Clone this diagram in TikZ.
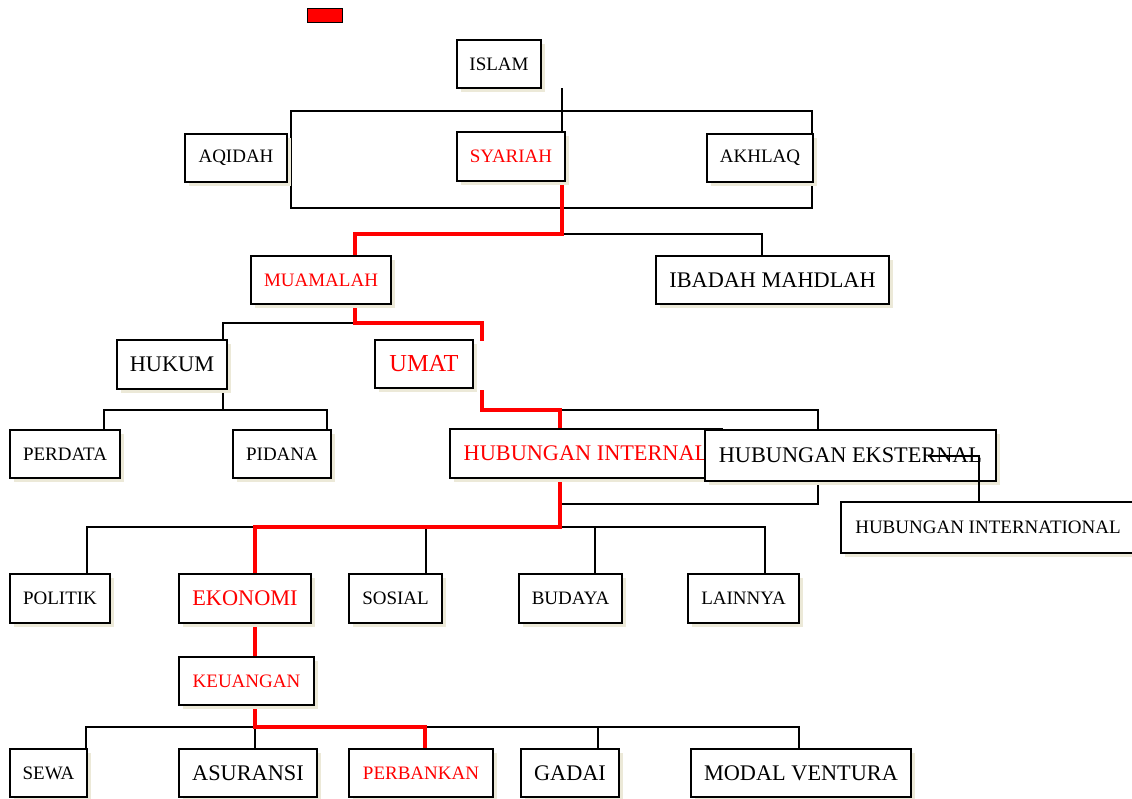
\documentclass[tikz,border=0pt]{standalone}
\usepackage{fontspec}
\setmainfont{Liberation Serif}
\usetikzlibrary{shadows, backgrounds}
\definecolor{shadowbeige}{HTML}{ECE9D8}

\begin{document}
\begin{tikzpicture}[
            x=1pt, y=-1pt,
            box/.style={draw, line width=1.2pt, fill=white, inner sep=0pt, minimum height=48pt,
                font=\fontsize{19}{22}\selectfont,
                drop shadow={shadow xshift=4pt, shadow yshift=-4pt, fill=shadowbeige, opacity=1}}, % plain box
            bigbox/.style={box, font=\fontsize{22.3}{26}\selectfont}, % box with larger text
            marked/.style={text=red}, % boxes on the red path
            link/.style={line width=1.1pt}, % thin connector
            redlink/.style={red, line width=4.5pt} % highlighted connector
            ]
        \useasboundingbox (0,0) rectangle (1132,798);

        % small red marker at the top
        \node[draw, fill=red, line width=1pt, minimum width=35pt, minimum height=14pt] (marker) at (324.5,15) {};

        % ISLAM and its three parts
        \node[box, minimum width=84pt] (islam) at (499,64) {ISLAM};
        \node[box, minimum width=102pt] (aqidah) at (236,158) {AQIDAH};
        \node[box, marked, minimum width=108pt, minimum height=49pt] (syariah) at (511,156.5) {SYARIAH};
        \node[box, minimum width=106pt] (akhlaq) at (760,158) {AKHLAQ};

        % syariah
        \node[box, marked, minimum width=140pt] (muamalah) at (321,280) {MUAMALAH};
        \node[bigbox, minimum width=233pt] (ibadah) at (772.5,280) {IBADAH MAHDLAH};

        % muamalah
        \node[bigbox, minimum width=110pt, minimum height=49pt] (hukum) at (172,364.5) {HUKUM};
        \node[bigbox, marked, minimum width=98pt, font=\fontsize{24.4}{28}\selectfont] (umat) at (424,364) {UMAT};
        \node[box, minimum width=110pt] (perdata) at (65,454) {PERDATA};
        \node[box, minimum width=98pt] (pidana) at (282,454) {PIDANA};

        % umat
        \node[bigbox, marked, minimum width=272pt, minimum height=49pt] (internal) at (586,453.5) {HUBUNGAN INTERNAL};
        \node[bigbox, minimum width=291pt, minimum height=51pt] (eksternal) at (850.5,455.5) {HUBUNGAN EKSTERNAL};
        \node[box, minimum width=294pt, minimum height=51pt] (intl) at (988,527.5) {HUBUNGAN INTERNATIONAL};

        % hubungan internal
        \node[box, minimum width=100pt, minimum height=49pt] (politik) at (60,598.5) {POLITIK};
        \node[bigbox, marked, minimum width=132pt, minimum height=49pt] (ekonomi) at (245,598.5) {EKONOMI};
        \node[box, minimum width=93pt, minimum height=49pt] (sosial) at (395.5,598.5) {SOSIAL};
        \node[box, minimum width=103pt, minimum height=49pt] (budaya) at (570.5,598.5) {BUDAYA};
        \node[box, minimum width=111pt, minimum height=49pt] (lainnya) at (743.5,598.5) {LAINNYA};

        % ekonomi
        \node[box, marked, minimum width=135pt] (keuangan) at (246.5,681) {KEUANGAN};
        \node[box, minimum width=77pt] (sewa) at (48.5,773) {SEWA};
        \node[bigbox, minimum width=138pt] (asuransi) at (248,773) {ASURANSI};
        \node[box, marked, minimum width=144pt] (perbankan) at (421,773) {PERBANKAN};
        \node[bigbox, minimum width=98pt] (gadai) at (570,773) {GADAI};
        \node[bigbox, minimum width=220pt] (modal) at (801,773) {MODAL VENTURA};

        % connectors under the boxes
        \begin{scope}[on background layer]
            \coordinate (islamdrop) at (562,88);
            \coordinate (bracketNW) at (291,111);
            \coordinate (bracketSE) at (812,208);
            \coordinate (syrfork) at (562,234);
            \coordinate (muafork) at (355,323);
            \coordinate (umatin) at (482,341);
            \coordinate (umatout) at (482,390);
            \coordinate (hubfork) at (560,410);
            \coordinate (hukfork) at (223,410);
            \coordinate (hubbottom) at (560,504);
            \coordinate (ekofork) at (560,527);
            \coordinate (keufork) at (255,727);

            \draw[link] (islamdrop) -- (islamdrop |- syariah.north);
            \draw[link] (bracketNW) rectangle (bracketSE);

            \draw[link] (syrfork) -| ([xshift=-10.5pt]ibadah.north);
            \draw[redlink] (syrfork |- syariah.south) -- (syrfork) -| ([xshift=34pt]muamalah.north);

            \draw[link] (muafork) -| ([xshift=51pt]hukum.north);
            \draw[redlink] (muafork |- muamalah.south) -- (muafork) -| (umatin);
            \draw[link] (hukfork |- hukum.south) -- (hukfork);
            \draw[link] ([xshift=39pt]perdata.north) |- (hukfork) -| ([xshift=45pt]pidana.north);

            \draw[link] (hubfork) -| ([xshift=-32.5pt]eksternal.north);
            \draw[redlink] (umatout) |- (hubfork) -- (hubfork |- internal.north);
            \draw[link] (hubbottom) -| ([xshift=-32.5pt]eksternal.south);

            \draw[link] ([xshift=27pt]politik.north) |- (ekofork) -| ([xshift=21.5pt]lainnya.north);
            \foreach \n/\dx in {sosial/30.5, budaya/24.5}
                \draw[link] ([xshift=\dx pt]\n.north) |- (ekofork);
            \draw[redlink] (hubbottom |- internal.south) -- (ekofork) -| ([xshift=10pt]ekonomi.north);

            \draw[redlink] (ekonomi.south -| keufork) -- (keuangan.north -| keufork);
            \draw[link] ([xshift=37.5pt]sewa.north) |- (keufork) -| ([xshift=-2pt]modal.north);
            \foreach \n/\dx in {asuransi/7, gadai/28}
                \draw[link] ([xshift=\dx pt]\n.north) |- (keufork);
            \draw[redlink] (keuangan.south -| keufork) -- (keufork) -| ([xshift=4pt]perbankan.north);
        \end{scope}

        % this one runs over the box text
        \coordinate (ekstap) at (928,456);
        \draw[link] (ekstap) -| ([xshift=-9pt]intl.north);

\end{tikzpicture}
\end{document}
